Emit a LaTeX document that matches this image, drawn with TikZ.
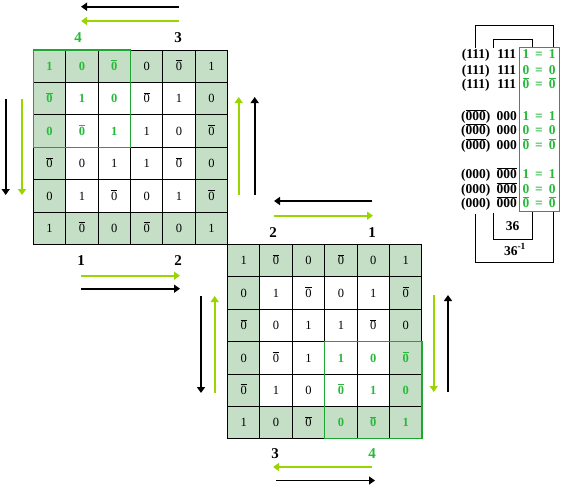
\documentclass[tikz,border=0pt]{standalone}
\usepackage{fontspec}
\setmainfont{Liberation Serif}
\usetikzlibrary{arrows.meta}
\definecolor{cellg}{RGB}{196,223,197}
\definecolor{txtg}{RGB}{40,185,60}
\definecolor{lime}{RGB}{153,214,0}
\definecolor{boxg}{RGB}{30,165,50}
\newcommand\zb{$\overline{\mbox{0}}$}
\newcommand\ovl[1]{$\overline{\mbox{#1}}$}
\newcommand\kgrid[6]{%
  \fill[cellg] (#1,#2) rectangle ++(194.4,194.4);
  \fill[white] (#1+32.4,#2+32.4) rectangle ++(129.6,129.6);
  \foreach \i in {0,...,6}{
    \draw[gridline] (#1+\i*32.4,#2) -- ++(0,194.4);
    \draw[gridline] (#1,#2+\i*32.4) -- ++(194.4,0);
  }
  \foreach \row [count=\r] in {#4}{
    \foreach \v [count=\c] in \row {
      \pgfmathtruncatemacro\hl{(\r>=#5)&&(\r<=#5+2)&&(\c>=#6)&&(\c<=#6+2)}
      \ifnum\hl=1 \def\tc{txtg}\def\fw{\bfseries}\else\def\tc{black}\def\fw{}\fi
      \node[cell,text=\tc] (#3-\r-\c) at ({#1+(\c-0.5)*32.4},{#2+(\r-0.5)*32.4+4.2}) {\fw\v};
    }
  }
  \draw[hlbox] ({#1+(#6-1)*32.4},{#2+(#5-1)*32.4}) rectangle ++(97.2,97.2);
}
\begin{document}
\begin{tikzpicture}[x=1pt,y=-1pt,
  cell/.style={inner sep=0pt,anchor=base,font=\fontsize{12.5}{13}\selectfont},
  gridline/.style={line width=0.9pt,black},
  hlbox/.style={line width=1.3pt,boxg},
  lbl/.style={inner sep=0pt,anchor=base,font=\fontsize{15}{16}\bfseries\selectfont},
  arr/.style={line width=1.7pt,-{Triangle[width=8pt,length=6pt]}},
  rt/.style={inner sep=0pt,anchor=base,font=\fontsize{13.5}{14}\bfseries\selectfont},
  br/.style={line width=0.9pt,black}]
\useasboundingbox (0,0) rectangle (562,487);

% grid 1
\kgrid{33.3}{50}{ga}{{1,0,\zb,0,\zb,1},{\zb,1,0,\zb,1,0},{0,\zb,1,1,0,\zb},{\zb,0,1,1,\zb,0},{0,1,\zb,0,1,\zb},{1,\zb,0,\zb,0,1}}{1}{1}
% grid 2
\kgrid{227.5}{244.4}{gb}{{1,\zb,0,\zb,0,1},{0,1,\zb,0,1,\zb},{\zb,0,1,1,\zb,0},{0,\zb,1,1,0,\zb},{\zb,1,0,\zb,1,0},{1,0,\zb,0,\zb,1}}{4}{4}

% labels grid 1
\node[lbl,text=txtg] (l1-4) at (78,43) {4};
\node[lbl] (l1-3) at (178,43) {3};
\node[lbl] (l1-1) at (81,265) {1};
\node[lbl] (l1-2) at (178,265) {2};
% labels grid 2
\node[lbl] (l2-2) at (273,237) {2};
\node[lbl] (l2-1) at (372,237) {1};
\node[lbl] (l2-3) at (275,458) {3};
\node[lbl,text=txtg] (l2-4) at (372,458) {4};

% arrows grid 1
\coordinate (a1) at (179,6.7); \coordinate (b1) at (81,6.7);
\draw[arr,black] (a1) -- (b1);
\coordinate (a2) at (179,21); \coordinate (b2) at (81,21);
\draw[arr,lime] (a2) -- (b2);
\coordinate (a3) at (5.7,99); \coordinate (b3) at (5.7,195);
\draw[arr,black] (a3) -- (b3);
\coordinate (a4) at (22,99); \coordinate (b4) at (22,195);
\draw[arr,lime] (a4) -- (b4);
\coordinate (a5) at (238.7,195); \coordinate (b5) at (238.7,97);
\draw[arr,lime] (a5) -- (b5);
\coordinate (a6) at (254.7,195); \coordinate (b6) at (254.7,97);
\draw[arr,black] (a6) -- (b6);
\coordinate (a7) at (81,275.7); \coordinate (b7) at (180,275.7);
\draw[arr,lime] (a7) -- (b7);
\coordinate (a8) at (81,288.7); \coordinate (b8) at (180,288.7);
\draw[arr,black] (a8) -- (b8);
% arrows grid 2
\coordinate (c1) at (372,201); \coordinate (d1) at (274,201);
\draw[arr,black] (c1) -- (d1);
\coordinate (c2) at (274,215.7); \coordinate (d2) at (373,215.7);
\draw[arr,lime] (c2) -- (d2);
\coordinate (c3) at (201,296); \coordinate (d3) at (201,393);
\draw[arr,black] (c3) -- (d3);
\coordinate (c4) at (214.7,393); \coordinate (d4) at (214.7,296);
\draw[arr,lime] (c4) -- (d4);
\coordinate (c5) at (433.7,295); \coordinate (d5) at (433.7,392);
\draw[arr,lime] (c5) -- (d5);
\coordinate (c6) at (448,392); \coordinate (d6) at (448,295);
\draw[arr,black] (c6) -- (d6);
\coordinate (c7) at (372,467); \coordinate (d7) at (273,467);
\draw[arr,lime] (c7) -- (d7);
\coordinate (c8) at (276,480.5); \coordinate (d8) at (375,480.5);
\draw[arr,black] (c8) -- (d8);

% right panel
\foreach \y/\p/\q/\d [count=\k] in {
  54.3/(111)/111/1, 70/(111)/111/0, 84.3/(111)/111/\zb,
  116/(\ovl{000})/000/1, 130/(\ovl{000})/000/0, 145.3/(\ovl{000})/000/\zb,
  174/(000)/\ovl{000}/1, 188.7/(000)/\ovl{000}/0, 203/(000)/\ovl{000}/\zb}{
  \node[rt] (p\k) at (475.7,\y+4.5) {\p};
  \node[rt] (q\k) at (506.7,\y+4.5) {\q};
  \node[rt,text=txtg] (u\k) at (526,\y+4.5) {\d};
  \node[rt,text=txtg] (e\k) at (539,\y+4.5) {=};
  \node[rt,text=txtg] (w\k) at (552.3,\y+4.5) {\d};
}
\draw[boxg,line width=1.2pt] (519.3,47.3) rectangle (559.3,211.7);
\draw[br] (475.7,48) -- (475.7,25) -- (553.3,25) -- (553.3,47.3);
\draw[br] (475.7,213.5) -- (475.7,262.7) -- (553.3,262.7) -- (553.3,211.7);
\draw[br] (493.3,48) -- (493.3,39.3) -- (532.3,39.3) -- (532.3,47.3);
\draw[br] (493.3,212.5) -- (493.3,239.3) -- (532.3,239.3) -- (532.3,211.7);
\node[rt] (n36) at (512.7,230.2) {36};
\node[rt] (n36i) at (515,255.2) {36\textsuperscript{-1}};
\end{tikzpicture}
\end{document}
